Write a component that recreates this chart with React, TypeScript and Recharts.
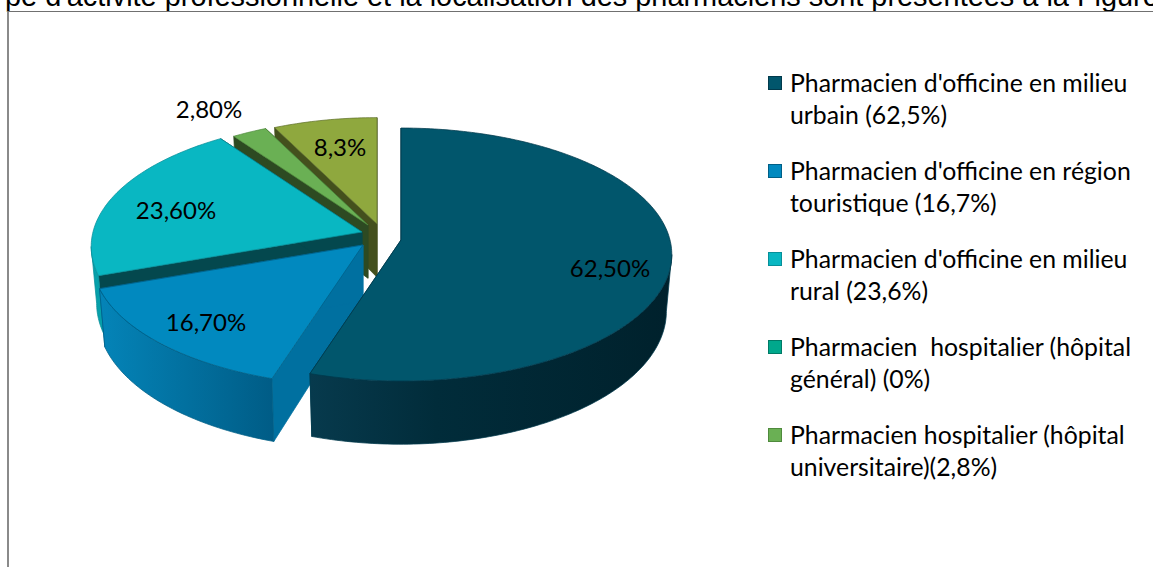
import { PieChart, Pie, Legend } from 'recharts';

const categories = [
  "Pharmacien d'officine en milieu urbain (62,5%)",
  "Pharmacien d'officine en région touristique (16,7%)",
  "Pharmacien d'officine en milieu rural (23,6%)",
  'Pharmacien  hospitalier (hôpital général) (0%)',
  'Pharmacien hospitalier (hôpital universitaire)(2,8%)',
  'Autre',
];
const values = [62.5, 16.7, 23.6, 0, 2.8, 8.3];
const dataLabels = ['62,50%', '16,70%', '23,60%', '', '2,80%', '8,3%'];
const legendCount = 5;

const topColors = ['#01566c', '#0189bf', '#09b7c2', '#00a88c', '#6ab054', '#8fa83e'];
const edgeColors = ['#013a4c', '#005f86', '#078f99', '#007a66', '#4f8a3d', '#5f7029'];
const cutColors = ['#013c4e', '#0070a0', '#04484e', '#006a58', '#2d4a22', '#44501d'];
const wallFills = ['url(#wall0)', 'url(#wall1)', '#06a0aa', '#008a72', '#3f7a30', '#5f7029'];

// how far each slice is pulled out of the pie, and how much it shrinks at the back
const explode = [
  { dx: 29, dy: 6, scale: 1 },
  { dx: -9, dy: 11, scale: 1 },
  { dx: -10, dy: -2, scale: 1 },
  { dx: 0, dy: 0, scale: 1 },
  { dx: -4, dy: -9, scale: 0.95 },
  { dx: 5, dy: -10, scale: 0.95 },
];
const labelOffsets = [
  { dx: 209, dy: 27 },
  { dx: -157, dy: 76 },
  { dx: -186, dy: -23 },
  { dx: 0, dy: 0 },
  { dx: -159, dy: -117 },
  { dx: -37, dy: -78 },
];

// drawn back to front, so the list runs backwards and the pie turns the other way
const pieData = categories
  .map((name, i) => ({ name, value: values[i], order: i }))
  .reverse();

const PIE_CX = 372;
const PIE_CY = 234;
const RADIUS = 269;
const TILT = 124.8 / 269;
const PERSPECTIVE = 0.1146;
const DEPTH = 56;
const BOTTOM_SHRINK = 0.98;

const project = (theta: number, r: number) => {
  const rad = (theta * Math.PI) / 180;
  const u = Math.sin(rad);
  const v = -Math.cos(rad);
  const k = 1 - PERSPECTIVE * v;
  return {
    x: (r * u) / k,
    y: (r * TILT * v) / k,
    depth: DEPTH / k,
  };
};

const arcPoints = (from: number, to: number, r: number) => {
  const steps = Math.max(2, Math.ceil(to - from));
  const pts = [];
  for (let i = 0; i <= steps; i++) {
    pts.push(project(from + ((to - from) * i) / steps, r));
  }
  return pts;
};

const toPath = (pts: { x: number; y: number }[]) =>
  'M' + pts.map((p) => `${p.x.toFixed(2)},${p.y.toFixed(2)}`).join('L') + 'Z';

const Slice3D = (props: any) => {
  const { startAngle, endAngle, outerRadius, cx, cy, order } = props;
  if (Math.abs(endAngle - startAngle) < 0.01) return <g />;
  const { dx, dy, scale } = explode[order];
  const from = 90 - endAngle + 360;
  const to = 90 - startAngle + 360;
  const apex = { x: 0, y: 0, depth: DEPTH };
  const arc = arcPoints(from, to, outerRadius);
  const drop = (p: any) => ({ x: p.x * BOTTOM_SHRINK, y: p.y + p.depth });
  const cut = (p: any) => toPath([apex, p, drop(p), drop(apex)]);

  const frontFrom = Math.max(from % 360, 96.6);
  const frontTo = Math.min(from % 360 + (to - from), 263.4);
  const front = frontTo > frontFrom ? arcPoints(frontFrom, frontTo, outerRadius) : [];
  const stroke = edgeColors[order];

  return (
    <g transform={`translate(${cx + dx},${cy + dy}) scale(${scale})`}>
      <path d={cut(arc[0])} fill={cutColors[order]} stroke={cutColors[order]} strokeWidth={0.75} />
      <path d={cut(arc[arc.length - 1])} fill={cutColors[order]} stroke={cutColors[order]} strokeWidth={0.75} />
      {front.length > 0 && (
        <path
          d={toPath([...front, ...front.map(drop).reverse()])}
          fill={wallFills[order]}
          stroke={stroke}
          strokeWidth={0.75}
        />
      )}
      <path d={toPath([apex, ...arc])} fill={topColors[order]} stroke={stroke} strokeWidth={0.75} />
    </g>
  );
};

const renderLabel = (props: any) => {
  const { cx, cy, order } = props;
  const text = dataLabels[order];
  if (!text) return null;
  return (
    <text
      x={cx + explode[order].dx + labelOffsets[order].dx}
      y={cy + explode[order].dy + labelOffsets[order].dy}
      textAnchor="middle"
      dominantBaseline="central"
      fill="#000"
      fontFamily="Lato, sans-serif"
      fontSize={24}
    >
      {text}
    </text>
  );
};

const renderLegend = () => (
  <div style={{ fontFamily: 'Lato, sans-serif', fontSize: 24.8, lineHeight: '32px', color: '#000' }}>
    {categories.slice(0, legendCount).map((name, i) => (
      <div key={name} style={{ position: 'relative', height: 88, paddingLeft: 22, width: 352, whiteSpace: 'pre-wrap' }}>
        <span
          style={{
            position: 'absolute',
            left: 0,
            top: 9,
            width: 14,
            height: 14,
            boxSizing: 'border-box',
            background: topColors[i],
            border: `1px solid ${edgeColors[i]}`,
          }}
        />
        {name}
      </div>
    ))}
  </div>
);

export default function App() {
  return (
    <div style={{ position: 'absolute', left: 0, top: 0, width: 1153, height: 567, overflow: 'hidden', background: '#fff' }}>
      <div
        style={{
          position: 'absolute',
          left: 5,
          top: -20,
          fontFamily: '"Liberation Sans", Arial, sans-serif',
          fontSize: 28.9,
          lineHeight: '32px',
          whiteSpace: 'nowrap',
          color: '#000',
        }}
      >
        pe d'activité professionnelle et la localisation des pharmaciens sont présentées à la Figure
      </div>
      <div style={{ position: 'absolute', left: 7, top: 11, right: 0, bottom: -2, borderLeft: '2px solid #8a8a8a', borderTop: '1px solid #707070' }} />
      <div style={{ position: 'absolute', left: 0, top: 0 }}>
        <PieChart width={1153} height={567} margin={{ top: 0, right: 0, bottom: 0, left: 0 }}>
          <defs>
            <linearGradient id="wall0" x1="0" y1="0" x2="1" y2="0">
              <stop offset="0%" stopColor="#073a4d" />
              <stop offset="35%" stopColor="#012c3a" />
              <stop offset="100%" stopColor="#00212c" />
            </linearGradient>
            <linearGradient id="wall1" x1="0" y1="0" x2="1" y2="0">
              <stop offset="0%" stopColor="#0484b8" />
              <stop offset="100%" stopColor="#005c86" />
            </linearGradient>
          </defs>
          <Pie
            data={pieData}
            dataKey="value"
            nameKey="name"
            cx={PIE_CX}
            cy={PIE_CY}
            outerRadius={RADIUS}
            startAngle={90}
            endAngle={450}
            shape={Slice3D}
            label={renderLabel}
            labelLine={false}
            isAnimationActive={false}
          />
          <Legend
            content={renderLegend}
            layout="vertical"
            wrapperStyle={{ position: 'absolute', left: 768, top: 67, width: 385, height: 460 }}
          />
        </PieChart>
      </div>
    </div>
  );
}
